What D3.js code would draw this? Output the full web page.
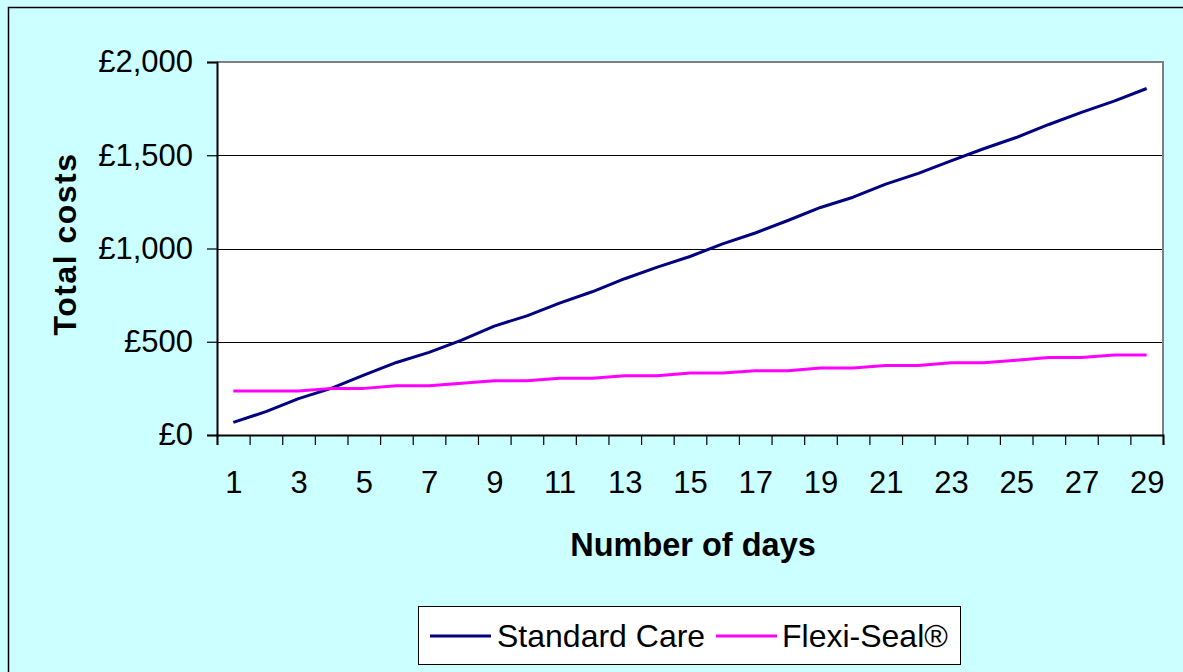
<!DOCTYPE html>
<html>
<head>
<meta charset="utf-8">
<script src="https://cdn.jsdelivr.net/npm/d3@7"></script>
<style>
  html, body { margin: 0; padding: 0; background: #ccffff; }
  svg { display: block; font-family: Arial, "Liberation Sans", sans-serif; }
</style>
</head>
<body>
<svg id="chart" width="1183" height="672"></svg>
<script>
// Cumulative cost per day of stay
const days = d3.range(1, 30);
const standardCare = [68, 125, 195, 250, 321, 389, 443, 509, 584, 639, 707, 768, 838, 900, 957,
  1025, 1083, 1150, 1220, 1275, 1345, 1403, 1470, 1535, 1595, 1665, 1730, 1790, 1858];
const flexiSeal = [236, 236, 236, 250, 250, 264, 264, 277, 291, 291, 304, 304, 318, 318, 332,
  332, 345, 345, 359, 359, 373, 373, 387, 387, 401, 415, 415, 429, 429];
const yTicks = [0, 500, 1000, 1500, 2000];
const xLabels = days.filter(d => d % 2 === 1);
const seriesNames = ["Standard Care", "Flexi-Seal®"];
const seriesColors = ["#000080", "#ff00ff"];

const svg = d3.select("#chart");
const plot = { left: 217, right: 1163, top: 62, bottom: 435 };

// Chart area frame
svg.append("rect")
  .attr("x", 8.5).attr("y", 7.5)
  .attr("width", 1200).attr("height", 700)
  .attr("fill", "#ccffff").attr("stroke", "#000").attr("stroke-width", 1.5);

const x = d3.scaleLinear().domain([0.5, 29.5]).range([plot.left, plot.right]);
const y = d3.scaleLinear().domain([0, 2000]).range([plot.bottom, plot.top]);

// Plot area
svg.append("rect")
  .attr("x", plot.left).attr("y", plot.top)
  .attr("width", plot.right - plot.left).attr("height", plot.bottom - plot.top)
  .attr("fill", "#fff");

// Gridlines
svg.append("g").selectAll("line")
  .data(yTicks.filter(v => v > 0 && v < 2000))
  .join("line")
  .attr("x1", plot.left).attr("x2", plot.right)
  .attr("y1", d => Math.round(y(d)) + 0.5).attr("y2", d => Math.round(y(d)) + 0.5)
  .attr("stroke", "#000").attr("stroke-width", 1);

// Plot border (top and right)
svg.append("path")
  .attr("d", `M${plot.left},${plot.top}H${plot.right}V${plot.bottom}`)
  .attr("fill", "none").attr("stroke", "#808080").attr("stroke-width", 2);

// Y axis
const yAxis = svg.append("g")
  .attr("transform", `translate(${plot.left},0)`)
  .call(d3.axisLeft(y).tickValues(yTicks).tickSize(10).tickPadding(14)
    .tickFormat(d => "£" + d3.format(",")(d)));
yAxis.select(".domain").attr("stroke", "#000").attr("stroke-width", 2);
yAxis.selectAll(".tick line").attr("stroke", "#000").attr("stroke-width", 1.2);
yAxis.selectAll(".tick text")
  .attr("font-size", 31).attr("fill", "#000")
  .attr("font-family", "Arial, 'Liberation Sans', sans-serif");

// X axis: ticks between categories
const xAxis = svg.append("g")
  .attr("transform", `translate(0,${plot.bottom})`)
  .call(d3.axisBottom(x).tickValues(d3.range(0.5, 30, 1)).tickSize(10).tickFormat(""));
xAxis.select(".domain").attr("stroke", "#000").attr("stroke-width", 2);
xAxis.selectAll(".tick line").attr("stroke", "#000").attr("stroke-width", 1.2);

// X labels on odd days
const xLab = svg.append("g")
  .attr("transform", `translate(0,${plot.bottom})`)
  .call(d3.axisBottom(x).tickValues(xLabels).tickSize(0).tickPadding(36).tickFormat(d3.format("d")));
xLab.select(".domain").remove();
xLab.selectAll(".tick text")
  .attr("font-size", 31).attr("fill", "#000")
  .attr("font-family", "Arial, 'Liberation Sans', sans-serif");

// Series lines
const line = d3.line().x((d, i) => x(days[i])).y(d => y(d));
[standardCare, flexiSeal].forEach((s, i) => {
  svg.append("path")
    .datum(s)
    .attr("d", line)
    .attr("fill", "none")
    .attr("stroke", seriesColors[i])
    .attr("stroke-width", 3)
    .attr("stroke-linejoin", "round");
});

// Axis titles
svg.append("text")
  .attr("x", 693).attr("y", 556)
  .attr("text-anchor", "middle")
  .attr("font-size", 32.5).attr("font-weight", "bold")
  .text("Number of days");
svg.append("text")
  .attr("transform", "translate(76,244) rotate(-90)")
  .attr("text-anchor", "middle")
  .attr("font-size", 32).attr("font-weight", "bold")
  .attr("letter-spacing", 1.5)
  .text("Total costs");

// Legend
const legend = svg.append("g");
legend.append("rect")
  .attr("x", 418.5).attr("y", 606.5).attr("width", 542).attr("height", 58)
  .attr("fill", "#fff").attr("stroke", "#000").attr("stroke-width", 1);
const legendItems = [
  { x1: 430, x2: 491, tx: 497 },
  { x1: 716, x2: 777, tx: 782 }
];
legendItems.forEach((it, i) => {
  legend.append("line")
    .attr("x1", it.x1).attr("x2", it.x2).attr("y1", 636).attr("y2", 636)
    .attr("stroke", seriesColors[i]).attr("stroke-width", 3);
  legend.append("text")
    .attr("x", it.tx).attr("y", 647)
    .attr("font-size", 32)
    .text(seriesNames[i]);
});
</script>
</body>
</html>
